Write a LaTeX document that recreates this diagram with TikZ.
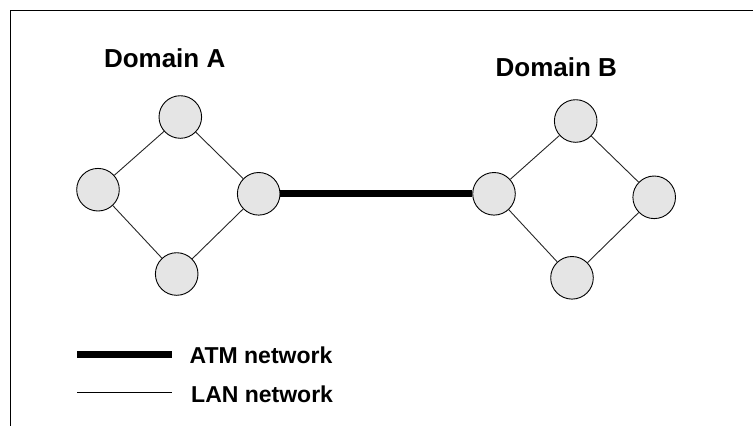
\documentclass[tikz,border=0pt]{standalone}
\usepackage{fontspec}
\setmainfont{Liberation Sans}
\begin{document}
\begin{tikzpicture}[x=1pt,y=-1pt,
  router/.style={circle,draw=black,line width=0.9pt,fill=black!10,minimum size=42.6pt,inner sep=0pt},
  lan/.style={draw=black!85,line width=0.9pt},
  atm/.style={draw=black,line width=7pt,line cap=butt},
  title/.style={anchor=base west,inner sep=0pt,font=\bfseries\fontsize{26}{30}\selectfont},
  legendtext/.style={anchor=base west,inner sep=0pt,font=\bfseries\fontsize{23}{27}\selectfont}]
\useasboundingbox (0,0) rectangle (753,426);
% frame
\draw[line width=1pt] (753,10) -- (10.5,10) -- (10.5,426);

% domain A
\node[router] (a1) at (180.3,117) {};
\node[router] (a2) at (98,189.7) {};
\node[router] (a3) at (258.7,193.8) {};
\node[router] (a4) at (176.7,274) {};
% domain B
\node[router] (b1) at (575.7,121) {};
\node[router] (b2) at (494,193.8) {};
\node[router] (b3) at (654.2,197.3) {};
\node[router] (b4) at (572,277.8) {};

% LAN links inside each domain
\draw[lan] (a1) -- (a2) (a2) -- (a4) (a4) -- (a3) (a3) -- (a1);
\draw[lan] (b1) -- (b2) (b2) -- (b4) (b4) -- (b3) (b3) -- (b1);
% ATM link between the domains
\draw[atm] (a3.east) -- (b2.west);

\node[title] (ta) at (103.8,67.3) {Domain A};
\node[title] (tb) at (495.4,76.7) {Domain B};

% legend
\coordinate (l1a) at (77.3,354);
\coordinate (l1b) at (172.3,354);
\coordinate (l2a) at (77.3,392);
\coordinate (l2b) at (172.3,392);
\draw[atm] (l1a) -- (l1b);
\draw[line width=0.9pt] (l2a) -- (l2b);
\node[legendtext] (atmtext) at (189.5,363.3) {ATM network};
\node[legendtext] (lantext) at (191,402) {LAN network};
\end{tikzpicture}
\end{document}
